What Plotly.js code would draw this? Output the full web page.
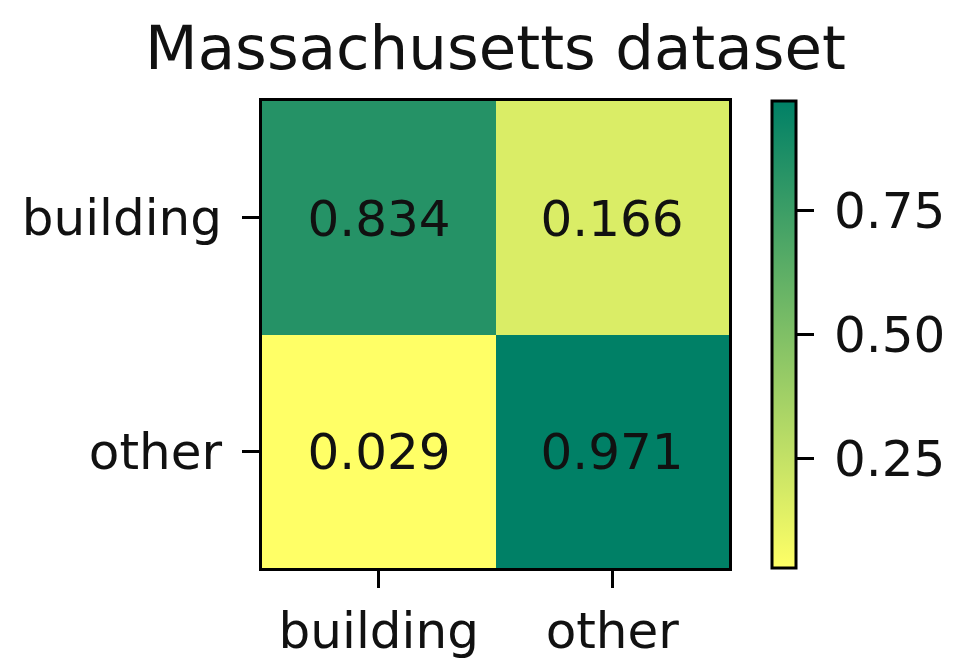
<!DOCTYPE html>
<html>
<head>
<meta charset="utf-8">
<script src="https://cdn.plot.ly/plotly-3.0.1.min.js"></script>
<style>html,body{margin:0;padding:0;background:#fff;}#chart{width:964px;height:668px;}</style>
</head>
<body>
<div id="chart"></div>
<script>
const categories = ['building', 'other'];
const values = [
  [0.834, 0.166],
  [0.029, 0.971]
];
const colorTickVals = [0.25, 0.50, 0.75];
const colorTickText = ['0.25', '0.50', '0.75'];
const chartTitle = 'Massachusetts dataset';

const FONT = 'DejaVu Sans, sans-serif';
const TXT = '#111';
const flat = values.flat();
const zmin = Math.min(...flat);
const zmax = Math.max(...flat);

const trace = {
  type: 'heatmap',
  x: categories,
  y: categories,
  z: values,
  zmin: zmin,
  zmax: zmax,
  colorscale: [[0, 'rgb(255,255,102)'], [1, 'rgb(0,128,102)']],
  texttemplate: '%{z:.3f}',
  textfont: {family: FONT, size: 50, color: TXT},
  hoverinfo: 'none',
  xgap: 0, ygap: 0,
  colorbar: {
    x: (772 - 262) / 467,
    xanchor: 'left',
    xpad: 0,
    ypad: 0,
    y: 0.5,
    yanchor: 'middle',
    len: 467,
    lenmode: 'pixels',
    thickness: 24,
    thicknessmode: 'pixels',
    outlinewidth: 3,
    outlinecolor: '#000',
    ticks: 'outside',
    ticklen: 17,
    tickwidth: 3,
    tickcolor: '#000',
    tickvals: colorTickVals,
    ticktext: colorTickText.map(t => '\u2009' + t),
    tickfont: {family: FONT, size: 50, color: TXT}
  }
};

const axisCommon = {
  type: 'category',
  showgrid: false,
  zeroline: false,
  showline: true,
  mirror: true,
  linecolor: '#000',
  linewidth: 3,
  ticks: 'outside',
  ticklen: 17,
  tickwidth: 3,
  tickcolor: '#000',
  tickfont: {family: FONT, size: 50, color: TXT},
  fixedrange: true
};

const layout = {
  width: 964,
  height: 668,
  paper_bgcolor: '#fff',
  plot_bgcolor: '#fff',
  margin: {l: 262, r: 235, t: 101, b: 100, pad: 0},
  title: {
    text: chartTitle,
    font: {family: FONT, size: 61, color: TXT},
    xref: 'paper', x: 0.5, xanchor: 'center',
    yref: 'container', y: 1 - 48 / 668, yanchor: 'middle'
  },
  xaxis: Object.assign({}, axisCommon, {range: [-0.5, 1.5]}),
  yaxis: Object.assign({}, axisCommon, {range: [1.5, -0.5], ticklabelstandoff: 10}),
  showlegend: false
};

Plotly.newPlot('chart', [trace], layout, {staticPlot: true, displayModeBar: false});
</script>
</body>
</html>
